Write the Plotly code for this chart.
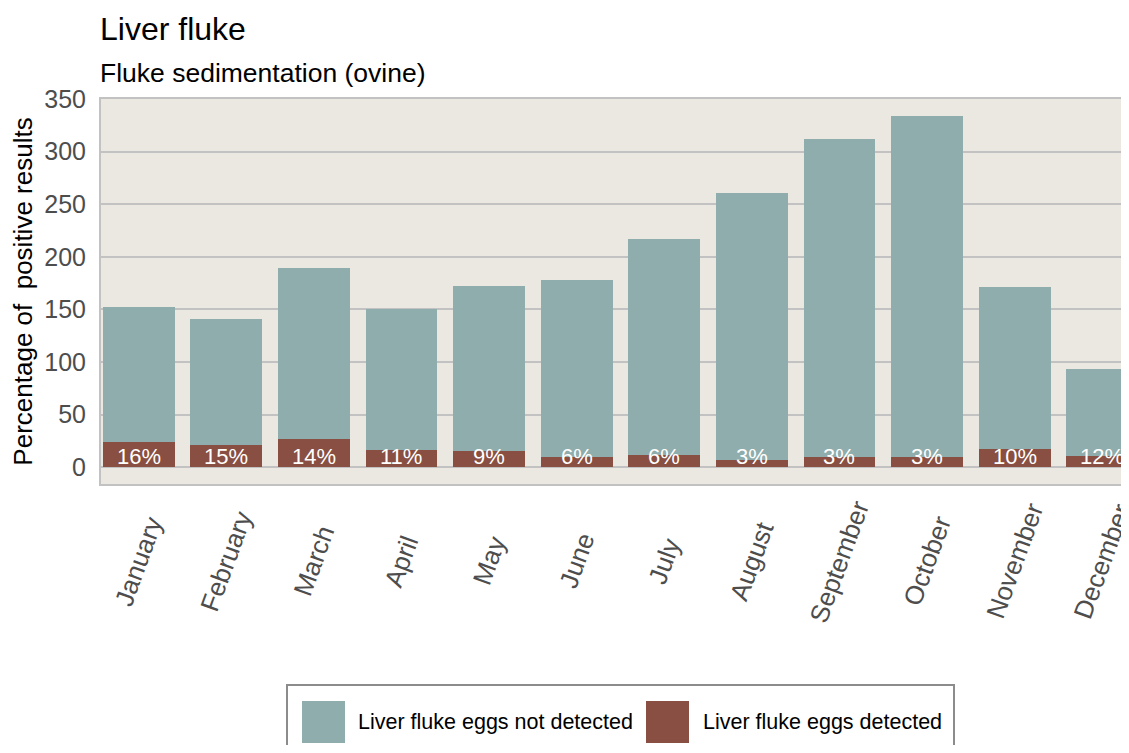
import plotly.graph_objects as go

months = ["January", "February", "March", "April", "May", "June", "July",
          "August", "September", "October", "November", "December"]
detected = [24, 21, 27, 16, 15, 10, 12, 7, 10, 10, 17, 11]
not_detected = [128, 120, 162, 134, 157, 168, 205, 254, 302, 324, 154, 82]
pct_labels = ["16%", "15%", "14%", "11%", "9%", "6%", "6%", "3%", "3%", "3%", "10%", "12%"]
y_ticks = [0, 50, 100, 150, 200, 250, 300, 350]

TEAL = "#8FADAC"
BROWN = "#884F42"
BG = "#EBE8E2"
GRID = "#C2C2C2"
FONT = "Liberation Sans, Arial, sans-serif"

OFF = 8  # page body margin
W, H = 1129 - OFF, 753 - 2 * OFF
L, R, T = 101 - OFF, 0, 99 - OFF
PLOT_BOTTOM = 484 - OFF
B = H - PLOT_BOTTOM
PW, PH = W - L - R, PLOT_BOTTOM - T


def px(p):
    # p: pixel position in the page
    return (p - OFF - L) / PW


def py(p):
    return (PLOT_BOTTOM - (p - OFF)) / PH


fig = go.Figure()
fig.add_trace(go.Bar(x=months, y=detected, name="Liver fluke eggs detected",
                     marker=dict(color=BROWN, line=dict(width=0)), showlegend=False))
fig.add_trace(go.Bar(x=months, y=not_detected, name="Liver fluke eggs not detected",
                     marker=dict(color=TEAL, line=dict(width=0)), showlegend=False))

annotations = []
for m, lab in zip(months, pct_labels):
    annotations.append(dict(x=m, y=0, xref="x", yref="y", text=lab, showarrow=False,
                            yanchor="bottom", yshift=-4,
                            font=dict(family=FONT, size=22, color="white")))

# x-axis category labels, centred under each bar and rotated
for m in months:
    annotations.append(dict(x=m, y=py(561), xref="x", yref="paper", text=m, showarrow=False,
                            textangle=-70, xanchor="center", yanchor="middle",
                            font=dict(family=FONT, size=26, color="#4D4D4D")))

annotations.append(dict(x=px(98), y=py(29), xref="paper", yref="paper", text="Liver fluke",
                        showarrow=False, xanchor="left", yanchor="middle",
                        font=dict(family=FONT, size=32, color="black")))
annotations.append(dict(x=px(98), y=py(73), xref="paper", yref="paper",
                        text="Fluke sedimentation (ovine)",
                        showarrow=False, xanchor="left", yanchor="middle",
                        font=dict(family=FONT, size=26.5, color="black")))

# legend (drawn manually)
shapes = [
    dict(type="rect", xref="paper", yref="paper", x0=px(287), x1=px(954), y0=py(685), y1=py(790),
         line=dict(color="#8C8C8C", width=2), fillcolor="white", layer="above"),
    dict(type="rect", xref="paper", yref="paper", x0=px(302), x1=px(345), y0=py(701), y1=py(743),
         line=dict(width=0), fillcolor=TEAL, layer="above"),
    dict(type="rect", xref="paper", yref="paper", x0=px(646), x1=px(689), y0=py(701), y1=py(743),
         line=dict(width=0), fillcolor=BROWN, layer="above"),
]
annotations.append(dict(x=px(356), y=py(722), xref="paper", yref="paper",
                        text="Liver fluke eggs not detected", showarrow=False,
                        xanchor="left", yanchor="middle",
                        font=dict(family=FONT, size=21.5, color="black")))
annotations.append(dict(x=px(701), y=py(722), xref="paper", yref="paper",
                        text="Liver fluke eggs detected", showarrow=False,
                        xanchor="left", yanchor="middle",
                        font=dict(family=FONT, size=21.5, color="black")))

fig.update_layout(
    width=W, height=H,
    margin=dict(l=L, r=R, t=T, b=B, autoexpand=False),
    barmode="stack", bargap=0.18,
    plot_bgcolor=BG, paper_bgcolor="white",
    font=dict(family=FONT),
    annotations=annotations, shapes=shapes,
    showlegend=False,
)
fig.update_xaxes(
    range=[-0.43, 11.305], showgrid=False, showticklabels=False,
    showline=True, mirror=True, linecolor=GRID, linewidth=2,
    ticks="", automargin=False,
)
fig.update_yaxes(
    range=[-16, 350], tickvals=y_ticks, showgrid=True, gridcolor=GRID, gridwidth=2,
    zeroline=False, tickfont=dict(family=FONT, size=25, color="#4D4D4D"),
    showline=True, linecolor=GRID, linewidth=2, ticks="", ticklabelstandoff=8,
    title=dict(text="Percentage of\u00a0 positive results",
               font=dict(family=FONT, size=26, color="black"), standoff=10),
    automargin=False,
)

fig.write_html("out.html")
